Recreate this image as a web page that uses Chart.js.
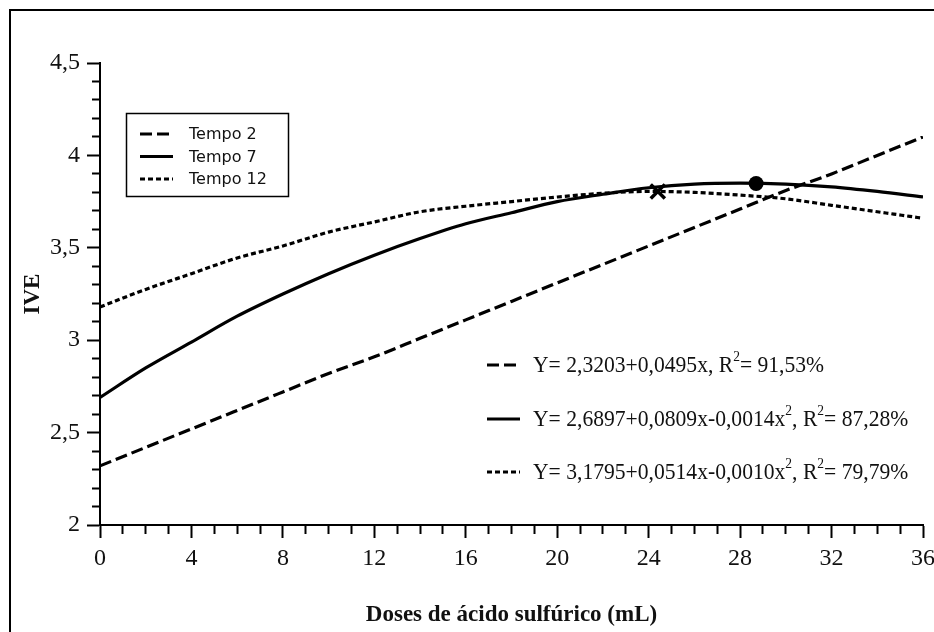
<!DOCTYPE html>
<html>
<head>
<meta charset="utf-8">
<script src="https://cdn.jsdelivr.net/npm/chart.js@4.4.1/dist/chart.umd.min.js"></script>
<style>
  html, body { margin: 0; padding: 0; background: #fff; }
  #wrap { width: 934px; height: 632px; }
</style>
</head>
<body>
<div id="wrap"><canvas id="c" width="934" height="632"></canvas></div>
<script>
// Doses de ácido sulfúrico (mL) and IVE per tempo
const doses   = [0, 2, 4, 6, 8, 10, 12, 14, 16, 18, 20, 22, 24, 26, 28, 30, 32, 34, 36];
const tempo2  = [2.32, 2.42, 2.52, 2.62, 2.72, 2.82, 2.91, 3.01, 3.11, 3.21, 3.31, 3.41, 3.51, 3.61, 3.71, 3.81, 3.90, 4.00, 4.10];
const tempo7  = [2.69, 2.85, 2.99, 3.13, 3.25, 3.36, 3.46, 3.55, 3.63, 3.69, 3.75, 3.79, 3.825, 3.845, 3.85, 3.845, 3.83, 3.805, 3.775];
const tempo12 = [3.18, 3.275, 3.36, 3.445, 3.51, 3.585, 3.64, 3.695, 3.725, 3.75, 3.775, 3.795, 3.805, 3.80, 3.785, 3.765, 3.73, 3.695, 3.66];

const seriesNames = ['Tempo 2', 'Tempo 7', 'Tempo 12'];
const equations = [
  'Y= 2,3203+0,0495x, R²= 91,53%',
  'Y= 2,6897+0,0809x-0,0014x², R²= 87,28%',
  'Y= 3,1795+0,0514x-0,0010x², R²= 79,79%'
];

// maximum points of the quadratic fits
const maxTempo12 = [{ x: 24.4, y: 3.805 }];
const maxTempo7  = [{ x: 28.7, y: 3.848 }];

// axis ticks
const xMajor = [0, 4, 8, 12, 16, 20, 24, 28, 32, 36];
const xTickLabels = ['0', '4', '8', '12', '16', '20', '24', '28', '32', '36'];
const yMajor = [2, 2.5, 3, 3.5, 4, 4.5];
const yTickLabels = ['2', '2,5', '3', '3,5', '4', '4,5'];

const dashes = [[12, 5], [], [5, 3]];
const INK = '#111';
const LINE_W = 3.2;

const pts = (arr) => doses.map((x, i) => ({ x: x, y: arr[i] }));
const isMajor = (list, v) => list.some(m => Math.abs(m - v) < 1e-6);

function lineSet(label, arr, dash) {
  return {
    label: label, data: pts(arr), borderColor: '#000', borderWidth: LINE_W,
    borderDash: dash, pointRadius: 0, fill: false,
    cubicInterpolationMode: 'monotone', order: 1
  };
}

// outer frame of the figure
const framePlugin = {
  id: 'frame',
  beforeDraw(chart) {
    const ctx = chart.ctx;
    ctx.save();
    ctx.strokeStyle = '#000';
    ctx.lineWidth = 2;
    ctx.strokeRect(10, 10, 1000, 1000);
    ctx.restore();
  }
};

// text with '²' drawn as a raised small 2, slightly condensed
function drawRich(ctx, text, x, y, size, sx) {
  ctx.save();
  ctx.translate(x, y);
  ctx.scale(sx, 1);
  const parts = text.split('²');
  let cx = 0;
  parts.forEach((p, i) => {
    ctx.font = size + 'px "Liberation Serif"';
    ctx.fillText(p, cx, 0);
    cx += ctx.measureText(p).width;
    if (i < parts.length - 1) {
      ctx.font = Math.round(size * 0.62) + 'px "Liberation Serif"';
      ctx.fillText('2', cx, -size * 0.36);
      cx += ctx.measureText('2').width;
    }
  });
  ctx.restore();
}

// boxed series legend (top left) and equation legend (lower right)
const legendPlugin = {
  id: 'legends',
  afterDraw(chart) {
    const ctx = chart.ctx;
    ctx.save();
    ctx.strokeStyle = '#000';
    ctx.lineWidth = 1.5;
    ctx.strokeRect(126.5, 113.5, 162, 83);

    const rowsA = [134, 156.5, 179];
    ctx.textBaseline = 'middle';
    ctx.fillStyle = INK;
    ctx.font = '16px "DejaVu Sans"';
    seriesNames.forEach((name, i) => {
      ctx.beginPath();
      ctx.lineWidth = LINE_W;
      ctx.setLineDash(dashes[i]);
      ctx.moveTo(140, rowsA[i]);
      ctx.lineTo(173, rowsA[i]);
      ctx.stroke();
      ctx.setLineDash([]);
      ctx.fillText(name, 189, rowsA[i] + 1);
    });

    const rowsB = [365, 419, 472];
    equations.forEach((eq, i) => {
      ctx.beginPath();
      ctx.lineWidth = LINE_W;
      ctx.setLineDash(dashes[i]);
      ctx.moveTo(487, rowsB[i]);
      ctx.lineTo(520, rowsB[i]);
      ctx.stroke();
      ctx.setLineDash([]);
      ctx.textBaseline = 'middle';
      drawRich(ctx, eq, 533, rowsB[i] + 1, 24, 0.9);
    });
    ctx.restore();
  }
};

new Chart(document.getElementById('c'), {
  type: 'line',
  data: {
    datasets: [
      lineSet(seriesNames[0], tempo2, dashes[0]),
      lineSet(seriesNames[1], tempo7, dashes[1]),
      lineSet(seriesNames[2], tempo12, dashes[2]),
      {
        label: 'Máximo Tempo 7', data: maxTempo7, showLine: false,
        pointStyle: 'circle', pointRadius: 7.5, backgroundColor: '#000',
        borderColor: '#000', borderWidth: 0, order: 0
      },
      {
        label: 'Máximo Tempo 12', data: maxTempo12, showLine: false,
        pointStyle: 'crossRot', pointRadius: 10, backgroundColor: '#000',
        borderColor: '#000', borderWidth: 3.5, order: 0
      }
    ]
  },
  options: {
    responsive: false,
    animation: false,
    devicePixelRatio: 1,
    layout: { autoPadding: false, padding: { left: 0, right: 11, top: 63, bottom: 0 } },
    plugins: { legend: { display: false }, tooltip: { enabled: false } },
    scales: {
      x: {
        type: 'linear', min: 0, max: 36,
        afterFit(s) { s.height = 107; s.paddingLeft = 0; s.paddingRight = 0; },
        border: { display: true, color: '#000', width: 2 },
        grid: {
          drawOnChartArea: false, drawTicks: true, tickLength: 13,
          tickColor: '#000', tickWidth: 2,
          tickBorderDash: (c) => isMajor(xMajor, c.tick.value) ? [] : [8, 100]
        },
        ticks: {
          stepSize: 1, autoSkip: false, maxRotation: 0, minRotation: 0, padding: 6,
          color: INK, font: { family: 'Liberation Serif', size: 24 },
          callback: (v) => { const i = xMajor.findIndex(m => Math.abs(m - v) < 1e-6); return i >= 0 ? xTickLabels[i] : ''; }
        },
        title: {
          display: true, text: 'Doses de ácido sulfúrico (mL)', color: INK,
          font: { family: 'Liberation Serif', size: 23, weight: 'bold' },
          padding: { top: 0, bottom: 3 }
        }
      },
      y: {
        type: 'linear', min: 2, max: 4.5,
        afterFit(s) { s.width = 100; s.paddingTop = 0; s.paddingBottom = 0; },
        border: { display: true, color: '#000', width: 2 },
        grid: {
          drawOnChartArea: false, drawTicks: true, tickLength: 13,
          tickColor: '#000', tickWidth: 2,
          tickBorderDash: (c) => isMajor(yMajor, c.tick.value) ? [] : [0, 5, 8, 100]
        },
        ticks: {
          stepSize: 0.1, autoSkip: false, padding: 7,
          color: INK, font: { family: 'Liberation Serif', size: 24 },
          callback: (v) => { const i = yMajor.findIndex(m => Math.abs(m - v) < 1e-6); return i >= 0 ? yTickLabels[i] : ''; }
        },
        title: {
          display: true, text: 'IVE', color: INK,
          font: { family: 'Liberation Serif', size: 23, weight: 'bold' },
          padding: { top: 19, bottom: 0 }
        }
      }
    }
  },
  plugins: [framePlugin, legendPlugin]
});
</script>
</body>
</html>
